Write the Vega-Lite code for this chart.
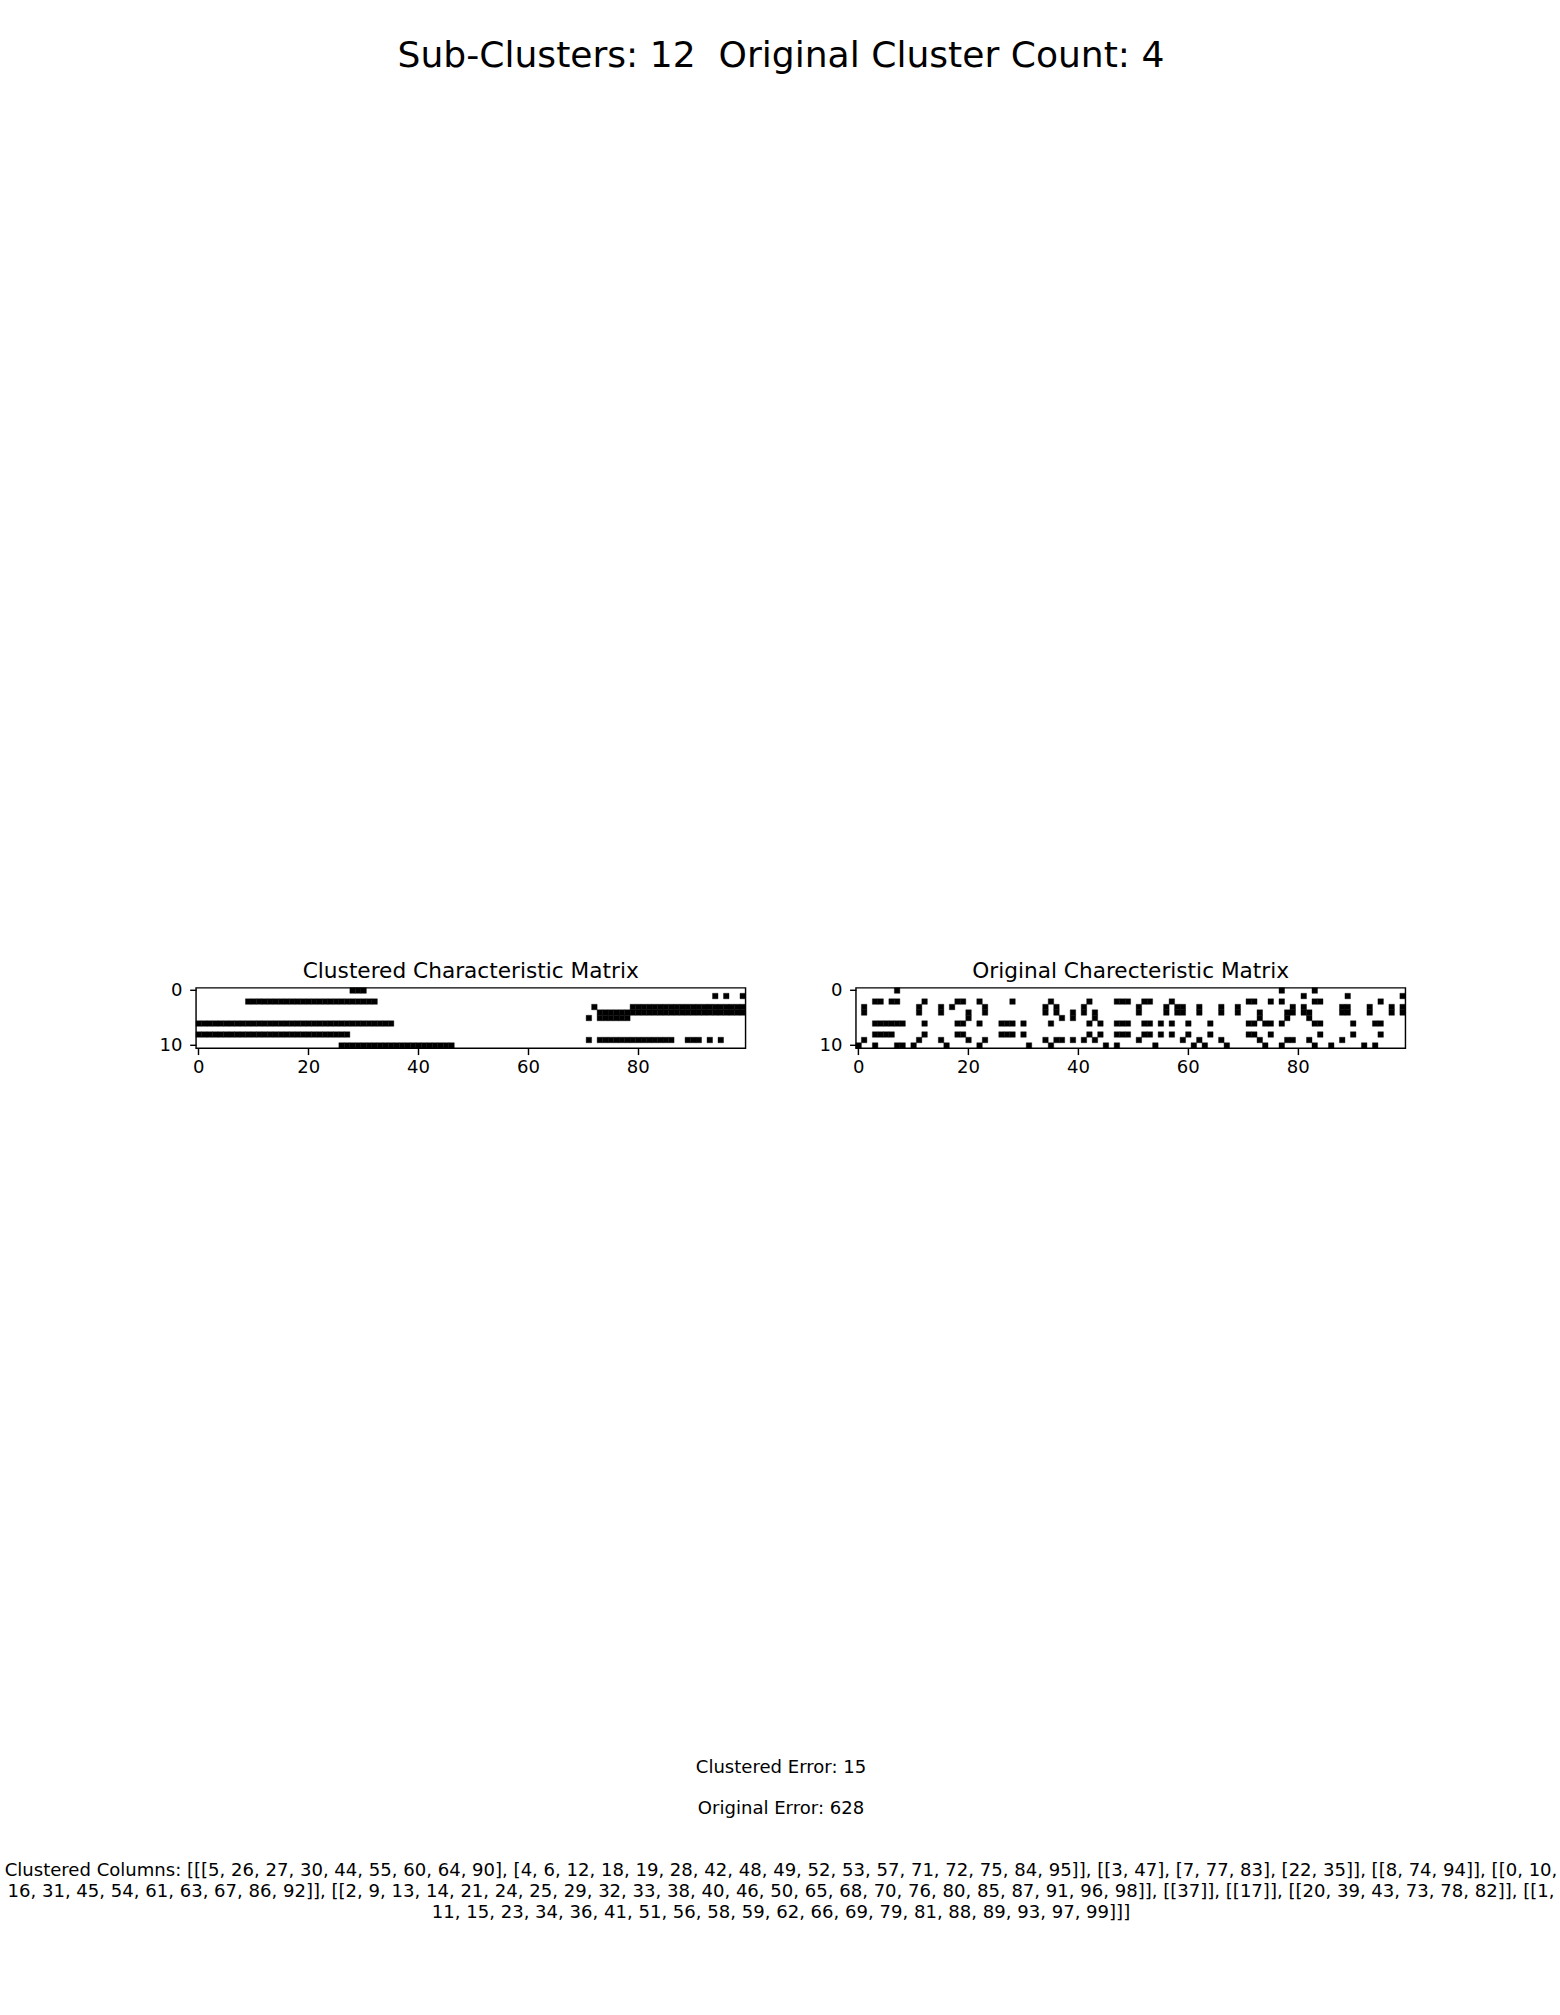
{
  "$schema": "https://vega.github.io/schema/vega-lite/v6.json",
  "background": "white",
  "padding": {"top": 0, "left": 4, "right": 0, "bottom": 0},
  "config": {"view": {"stroke": null}, "font": "DejaVu Sans"},
  "datasets": {
    "heading": [{"label": "Sub-Clusters: 12\u00a0 Original Cluster Count: 4"}],
    "clustered": [
      {"r":0,"c":28},{"r":0,"c":29},{"r":0,"c":30},
      {"r":1,"c":94},{"r":1,"c":96},{"r":1,"c":99},
      {"r":2,"c":9},{"r":2,"c":10},{"r":2,"c":11},{"r":2,"c":12},{"r":2,"c":13},{"r":2,"c":14},{"r":2,"c":15},{"r":2,"c":16},{"r":2,"c":17},{"r":2,"c":18},{"r":2,"c":19},{"r":2,"c":20},{"r":2,"c":21},{"r":2,"c":22},{"r":2,"c":23},{"r":2,"c":24},{"r":2,"c":25},{"r":2,"c":26},{"r":2,"c":27},{"r":2,"c":28},{"r":2,"c":29},{"r":2,"c":30},{"r":2,"c":31},{"r":2,"c":32},
      {"r":3,"c":72},{"r":3,"c":79},{"r":3,"c":80},{"r":3,"c":81},{"r":3,"c":82},{"r":3,"c":83},{"r":3,"c":84},{"r":3,"c":85},{"r":3,"c":86},{"r":3,"c":87},{"r":3,"c":88},{"r":3,"c":89},{"r":3,"c":90},{"r":3,"c":91},{"r":3,"c":92},{"r":3,"c":93},{"r":3,"c":94},{"r":3,"c":95},{"r":3,"c":96},{"r":3,"c":97},{"r":3,"c":98},{"r":3,"c":99},
      {"r":4,"c":73},{"r":4,"c":74},{"r":4,"c":75},{"r":4,"c":76},{"r":4,"c":77},{"r":4,"c":78},{"r":4,"c":79},{"r":4,"c":80},{"r":4,"c":81},{"r":4,"c":82},{"r":4,"c":83},{"r":4,"c":84},{"r":4,"c":85},{"r":4,"c":86},{"r":4,"c":87},{"r":4,"c":88},{"r":4,"c":89},{"r":4,"c":90},{"r":4,"c":91},{"r":4,"c":92},{"r":4,"c":93},{"r":4,"c":94},{"r":4,"c":95},{"r":4,"c":96},{"r":4,"c":97},{"r":4,"c":98},{"r":4,"c":99},
      {"r":5,"c":71},{"r":5,"c":73},{"r":5,"c":74},{"r":5,"c":75},{"r":5,"c":76},{"r":5,"c":77},{"r":5,"c":78},
      {"r":6,"c":0},{"r":6,"c":1},{"r":6,"c":2},{"r":6,"c":3},{"r":6,"c":4},{"r":6,"c":5},{"r":6,"c":6},{"r":6,"c":7},{"r":6,"c":8},{"r":6,"c":9},{"r":6,"c":10},{"r":6,"c":11},{"r":6,"c":12},{"r":6,"c":13},{"r":6,"c":14},{"r":6,"c":15},{"r":6,"c":16},{"r":6,"c":17},{"r":6,"c":18},{"r":6,"c":19},{"r":6,"c":20},{"r":6,"c":21},{"r":6,"c":22},{"r":6,"c":23},{"r":6,"c":24},{"r":6,"c":25},{"r":6,"c":26},{"r":6,"c":27},{"r":6,"c":28},{"r":6,"c":29},{"r":6,"c":30},{"r":6,"c":31},{"r":6,"c":32},{"r":6,"c":33},{"r":6,"c":34},{"r":6,"c":35},
      {"r":8,"c":0},{"r":8,"c":1},{"r":8,"c":2},{"r":8,"c":3},{"r":8,"c":4},{"r":8,"c":5},{"r":8,"c":6},{"r":8,"c":7},{"r":8,"c":8},{"r":8,"c":9},{"r":8,"c":10},{"r":8,"c":11},{"r":8,"c":12},{"r":8,"c":13},{"r":8,"c":14},{"r":8,"c":15},{"r":8,"c":16},{"r":8,"c":17},{"r":8,"c":18},{"r":8,"c":19},{"r":8,"c":20},{"r":8,"c":21},{"r":8,"c":22},{"r":8,"c":23},{"r":8,"c":24},{"r":8,"c":25},{"r":8,"c":26},{"r":8,"c":27},
      {"r":9,"c":71},{"r":9,"c":73},{"r":9,"c":74},{"r":9,"c":75},{"r":9,"c":76},{"r":9,"c":77},{"r":9,"c":78},{"r":9,"c":79},{"r":9,"c":80},{"r":9,"c":81},{"r":9,"c":82},{"r":9,"c":83},{"r":9,"c":84},{"r":9,"c":85},{"r":9,"c":86},{"r":9,"c":89},{"r":9,"c":90},{"r":9,"c":91},{"r":9,"c":93},{"r":9,"c":95},
      {"r":10,"c":26},{"r":10,"c":27},{"r":10,"c":28},{"r":10,"c":29},{"r":10,"c":30},{"r":10,"c":31},{"r":10,"c":32},{"r":10,"c":33},{"r":10,"c":34},{"r":10,"c":35},{"r":10,"c":36},{"r":10,"c":37},{"r":10,"c":38},{"r":10,"c":39},{"r":10,"c":40},{"r":10,"c":41},{"r":10,"c":42},{"r":10,"c":43},{"r":10,"c":44},{"r":10,"c":45},{"r":10,"c":46}
    ],
    "original": [
      {"r":0,"c":7},{"r":0,"c":77},{"r":0,"c":83},
      {"r":1,"c":81},{"r":1,"c":89},{"r":1,"c":99},
      {"r":2,"c":3},{"r":2,"c":4},{"r":2,"c":6},{"r":2,"c":7},{"r":2,"c":12},{"r":2,"c":18},{"r":2,"c":19},{"r":2,"c":22},{"r":2,"c":28},{"r":2,"c":35},{"r":2,"c":42},{"r":2,"c":47},{"r":2,"c":48},{"r":2,"c":49},{"r":2,"c":52},{"r":2,"c":53},{"r":2,"c":57},{"r":2,"c":71},{"r":2,"c":72},{"r":2,"c":75},{"r":2,"c":77},{"r":2,"c":83},{"r":2,"c":84},{"r":2,"c":95},
      {"r":3,"c":1},{"r":3,"c":11},{"r":3,"c":15},{"r":3,"c":17},{"r":3,"c":23},{"r":3,"c":34},{"r":3,"c":36},{"r":3,"c":41},{"r":3,"c":51},{"r":3,"c":56},{"r":3,"c":58},{"r":3,"c":59},{"r":3,"c":62},{"r":3,"c":66},{"r":3,"c":69},{"r":3,"c":79},{"r":3,"c":81},{"r":3,"c":88},{"r":3,"c":89},{"r":3,"c":93},{"r":3,"c":97},{"r":3,"c":99},
      {"r":4,"c":1},{"r":4,"c":11},{"r":4,"c":15},{"r":4,"c":20},{"r":4,"c":23},{"r":4,"c":34},{"r":4,"c":36},{"r":4,"c":39},{"r":4,"c":41},{"r":4,"c":43},{"r":4,"c":51},{"r":4,"c":56},{"r":4,"c":58},{"r":4,"c":59},{"r":4,"c":62},{"r":4,"c":66},{"r":4,"c":69},{"r":4,"c":73},{"r":4,"c":78},{"r":4,"c":79},{"r":4,"c":81},{"r":4,"c":82},{"r":4,"c":88},{"r":4,"c":89},{"r":4,"c":93},{"r":4,"c":97},{"r":4,"c":99},
      {"r":5,"c":20},{"r":5,"c":37},{"r":5,"c":39},{"r":5,"c":43},{"r":5,"c":73},{"r":5,"c":78},{"r":5,"c":82},
      {"r":6,"c":3},{"r":6,"c":4},{"r":6,"c":5},{"r":6,"c":6},{"r":6,"c":7},{"r":6,"c":8},{"r":6,"c":12},{"r":6,"c":18},{"r":6,"c":19},{"r":6,"c":22},{"r":6,"c":26},{"r":6,"c":27},{"r":6,"c":28},{"r":6,"c":30},{"r":6,"c":35},{"r":6,"c":42},{"r":6,"c":44},{"r":6,"c":47},{"r":6,"c":48},{"r":6,"c":49},{"r":6,"c":52},{"r":6,"c":53},{"r":6,"c":55},{"r":6,"c":57},{"r":6,"c":60},{"r":6,"c":64},{"r":6,"c":71},{"r":6,"c":72},{"r":6,"c":74},{"r":6,"c":75},{"r":6,"c":77},{"r":6,"c":83},{"r":6,"c":84},{"r":6,"c":90},{"r":6,"c":94},{"r":6,"c":95},
      {"r":8,"c":3},{"r":8,"c":4},{"r":8,"c":5},{"r":8,"c":6},{"r":8,"c":12},{"r":8,"c":18},{"r":8,"c":19},{"r":8,"c":26},{"r":8,"c":27},{"r":8,"c":28},{"r":8,"c":30},{"r":8,"c":42},{"r":8,"c":44},{"r":8,"c":47},{"r":8,"c":48},{"r":8,"c":49},{"r":8,"c":52},{"r":8,"c":53},{"r":8,"c":55},{"r":8,"c":57},{"r":8,"c":60},{"r":8,"c":64},{"r":8,"c":71},{"r":8,"c":72},{"r":8,"c":75},{"r":8,"c":84},{"r":8,"c":90},{"r":8,"c":95},
      {"r":9,"c":1},{"r":9,"c":11},{"r":9,"c":15},{"r":9,"c":20},{"r":9,"c":23},{"r":9,"c":34},{"r":9,"c":36},{"r":9,"c":37},{"r":9,"c":39},{"r":9,"c":41},{"r":9,"c":43},{"r":9,"c":51},{"r":9,"c":59},{"r":9,"c":62},{"r":9,"c":66},{"r":9,"c":73},{"r":9,"c":78},{"r":9,"c":79},{"r":9,"c":82},{"r":9,"c":88},
      {"r":10,"c":0},{"r":10,"c":3},{"r":10,"c":7},{"r":10,"c":8},{"r":10,"c":10},{"r":10,"c":16},{"r":10,"c":22},{"r":10,"c":31},{"r":10,"c":35},{"r":10,"c":45},{"r":10,"c":47},{"r":10,"c":54},{"r":10,"c":61},{"r":10,"c":63},{"r":10,"c":67},{"r":10,"c":74},{"r":10,"c":77},{"r":10,"c":83},{"r":10,"c":86},{"r":10,"c":92},{"r":10,"c":94}
    ],
    "notes": [
      {"part": "clustered_error", "text": "Clustered Error: 15"},
      {"part": "original_error", "text": "Original Error: 628"},
      {"part": "columns_1", "text": "Clustered Columns: [[[5, 26, 27, 30, 44, 55, 60, 64, 90], [4, 6, 12, 18, 19, 28, 42, 48, 49, 52, 53, 57, 71, 72, 75, 84, 95]], [[3, 47], [7, 77, 83], [22, 35]], [[8, 74, 94]], [[0, 10,"},
      {"part": "columns_2", "text": "16, 31, 45, 54, 61, 63, 67, 86, 92]], [[2, 9, 13, 14, 21, 24, 25, 29, 32, 33, 38, 40, 46, 50, 65, 68, 70, 76, 80, 85, 87, 91, 96, 98]], [[37]], [[17]], [[20, 39, 43, 73, 78, 82]], [[1,"},
      {"part": "columns_3", "text": "11, 15, 23, 34, 36, 41, 51, 56, 58, 59, 62, 66, 69, 79, 81, 88, 89, 93, 97, 99]]]"}
    ]
  },
  "bounds": "flush",
  "spacing": 874.8,
  "vconcat": [
    {
      "width": 1170,
      "height": 112.6,
      "data": {"name": "heading"},
      "mark": {"type": "text", "fontSize": 36.1, "font": "DejaVu Sans", "color": "black", "align": "center", "baseline": "middle"},
      "encoding": {"text": {"field": "label", "type": "nominal"}}
    },
    {
      "bounds": "flush",
      "spacing": 779.8,
      "vconcat": [
        {
          "bounds": "flush",
          "spacing": 109.9,
          "hconcat": [
            {
              "width": 549.5,
              "height": 60.45,
              "title": {"text": "Clustered Characteristic Matrix", "fontSize": 21.67, "font": "DejaVu Sans", "fontWeight": "normal", "color": "black", "anchor": "middle", "frame": "group", "offset": -1.2},
              "view": {"stroke": "black", "strokeWidth": 1.44},
              "data": {"name": "clustered"},
              "mark": {"type": "rect", "color": "black", "stroke": "black", "strokeWidth": 0.4},
              "encoding": {
                "x": {"field": "c", "type": "ordinal",
                  "scale": {"domain": [0,1,2,3,4,5,6,7,8,9,10,11,12,13,14,15,16,17,18,19,20,21,22,23,24,25,26,27,28,29,30,31,32,33,34,35,36,37,38,39,40,41,42,43,44,45,46,47,48,49,50,51,52,53,54,55,56,57,58,59,60,61,62,63,64,65,66,67,68,69,70,71,72,73,74,75,76,77,78,79,80,81,82,83,84,85,86,87,88,89,90,91,92,93,94,95,96,97,98,99], "paddingInner": 0, "paddingOuter": 0},
                  "axis": {"values": [0,20,40,60,80], "title": null, "labelAngle": 0, "labelFontSize": 18.06, "labelFont": "DejaVu Sans", "labelColor": "black", "tickColor": "black", "tickSize": 6.32, "tickWidth": 1.44, "labelPadding": 3.9, "domain": false, "grid": false}},
                "y": {"field": "r", "type": "ordinal",
                  "scale": {"domain": [0,1,2,3,4,5,6,7,8,9,10], "paddingInner": 0, "paddingOuter": 0},
                  "axis": {"values": [0,10], "title": null, "labelFontSize": 18.06, "labelFont": "DejaVu Sans", "labelColor": "black", "tickColor": "black", "tickSize": 6.32, "tickWidth": 1.44, "labelPadding": 7.6, "domain": false, "grid": false}}
              }
            },
            {
              "width": 549.5,
              "height": 60.45,
              "title": {"text": "Original Charecteristic Matrix", "fontSize": 21.67, "font": "DejaVu Sans", "fontWeight": "normal", "color": "black", "anchor": "middle", "frame": "group", "offset": -1.2},
              "view": {"stroke": "black", "strokeWidth": 1.44},
              "data": {"name": "original"},
              "mark": {"type": "rect", "color": "black", "stroke": "black", "strokeWidth": 0.4},
              "encoding": {
                "x": {"field": "c", "type": "ordinal",
                  "scale": {"domain": [0,1,2,3,4,5,6,7,8,9,10,11,12,13,14,15,16,17,18,19,20,21,22,23,24,25,26,27,28,29,30,31,32,33,34,35,36,37,38,39,40,41,42,43,44,45,46,47,48,49,50,51,52,53,54,55,56,57,58,59,60,61,62,63,64,65,66,67,68,69,70,71,72,73,74,75,76,77,78,79,80,81,82,83,84,85,86,87,88,89,90,91,92,93,94,95,96,97,98,99], "paddingInner": 0, "paddingOuter": 0},
                  "axis": {"values": [0,20,40,60,80], "title": null, "labelAngle": 0, "labelFontSize": 18.06, "labelFont": "DejaVu Sans", "labelColor": "black", "tickColor": "black", "tickSize": 6.32, "tickWidth": 1.44, "labelPadding": 3.9, "domain": false, "grid": false}},
                "y": {"field": "r", "type": "ordinal",
                  "scale": {"domain": [0,1,2,3,4,5,6,7,8,9,10], "paddingInner": 0, "paddingOuter": 0},
                  "axis": {"values": [0,10], "title": null, "labelFontSize": 18.06, "labelFont": "DejaVu Sans", "labelColor": "black", "tickColor": "black", "tickSize": 6.32, "tickWidth": 1.44, "labelPadding": 7.6, "domain": false, "grid": false}}
              }
            }
          ]
        },
        {
          "width": 1170,
          "height": 144.9,
          "data": {"name": "notes"},
          "mark": {"type": "text", "fontSize": 18.06, "font": "DejaVu Sans", "color": "black", "align": "center", "baseline": "middle"},
          "encoding": {
            "y": {"field": "part", "type": "ordinal", "scale": {"type": "point", "domain": ["clustered_error", "blank_1", "original_error", "blank_2", "blank_3", "columns_1", "columns_2", "columns_3"], "padding": 0}, "axis": null},
            "text": {"field": "text", "type": "nominal"}
          }
        }
      ]
    }
  ]
}
